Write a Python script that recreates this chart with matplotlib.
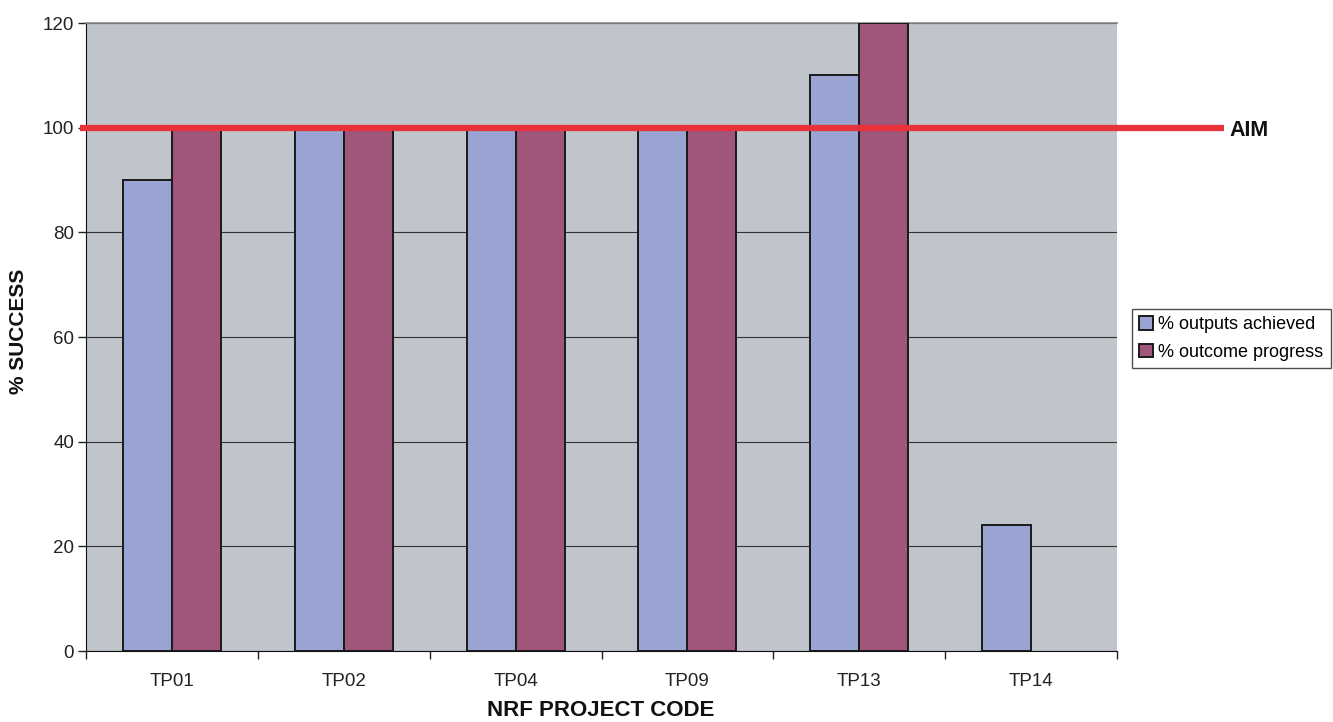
import matplotlib
matplotlib.use("Agg")
import matplotlib.pyplot as plt
import numpy as np

plt.rcParams['font.family'] = ['Liberation Sans', 'DejaVu Sans']

projects = ["TP01", "TP02", "TP04", "TP09", "TP13", "TP14"]
outputs_achieved = [90, 100, 100, 100, 110, 24]
outcome_progress = [100, 100, 100, 100, 120, 0]
aim_level = 100
y_ticks = [0, 20, 40, 60, 80, 100, 120]

fig = plt.figure(figsize=(13.33, 7.22), dpi=100)
ax = fig.add_axes([86/1333, 71/722, (1117-86)/1333, (651-23)/722])
ax.set_facecolor("#C0C4CB")

x = np.arange(len(projects)) + 0.5
w = 0.285
ax.bar(x - w/2, outputs_achieved, w, color="#99A4D2", edgecolor="#1a1a1a",
       linewidth=1.4, label="% outputs achieved", zorder=3)
prog_vals = [v if v > 0 else np.nan for v in outcome_progress]
ax.bar(x + w/2, prog_vals, w, color="#A0557A", edgecolor="#1a1a1a",
       linewidth=1.4, label="% outcome progress", zorder=3)

ax.set_xlim(0, len(projects))
ax.set_ylim(0, 120)
ax.set_yticks(y_ticks)
ax.yaxis.grid(True, color="#333333", linewidth=0.8, zorder=1)
ax.set_axisbelow(True)

ax.set_xticks(np.arange(len(projects) + 1))
ax.set_xticklabels([])
ax.set_xticks(x, minor=True)
ax.set_xticklabels(projects, minor=True)
ax.tick_params(axis='x', which='minor', length=0, pad=16, labelsize=13.5, colors="#222222")
ax.tick_params(axis='x', which='major', length=6, width=1, color="#222222")
ax.tick_params(axis='y', length=6, width=1, labelsize=13.5, color="#222222",
               labelcolor="#222222", pad=2.5)

ax.spines["right"].set_visible(False)
ax.spines["top"].set_color("#888888")
ax.spines["top"].set_linewidth(1.2)
ax.spines["left"].set_color("#111111")
ax.spines["bottom"].set_color("#111111")

# AIM reference line, extended past the plot area
ax.plot([-0.035, 6.62], [aim_level, aim_level], color="#E8323A", linewidth=4.5,
        clip_on=False, zorder=5, solid_capstyle="butt")
ax.text(6.655, aim_level - 0.6, "AIM", fontsize=15.5, fontweight="bold", color="#111111",
        va="center", ha="left", clip_on=False)

fig.text(19/1333, 1 - 331/722, "% SUCCESS", rotation=90, fontsize=15,
         fontweight="bold", color="#111111", ha="center", va="center")
fig.text(601/1333, 1 - 710/722, "NRF PROJECT CODE", fontsize=16,
         fontweight="bold", color="#111111", ha="center", va="center")

leg = fig.legend(loc="upper left", bbox_to_anchor=(1132/1333, 1 - 309/722),
                 frameon=True, fancybox=False, fontsize=13, handlelength=0.75,
                 handleheight=0.75, handletextpad=0.3, borderpad=0.4,
                 labelspacing=0.6, borderaxespad=0)
leg.get_frame().set_edgecolor("#222222")
leg.get_frame().set_linewidth(1.0)

fig.savefig("out.png", dpi=100)
